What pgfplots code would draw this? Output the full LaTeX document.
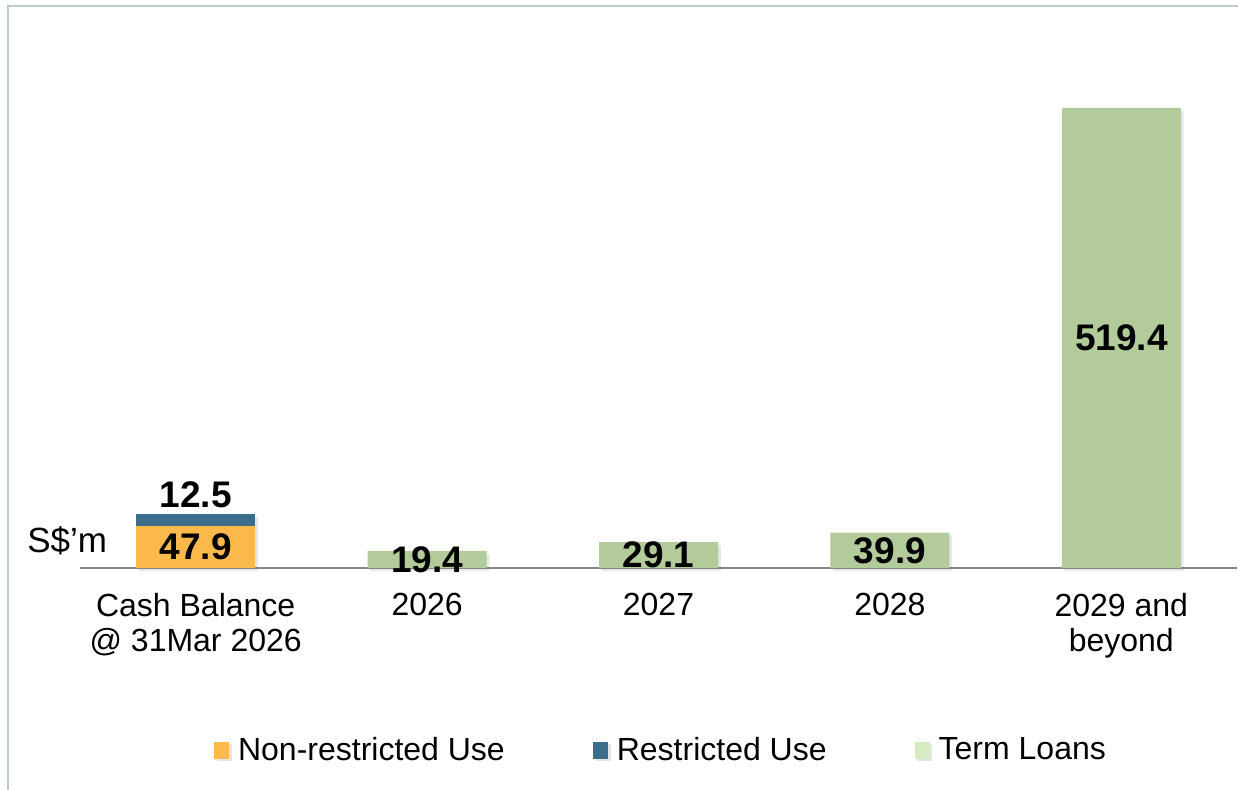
\documentclass[border=0pt]{standalone}
\usepackage{pgfplots}
\pgfplotsset{compat=1.18}
\usepackage{fontspec}
\setmainfont{Liberation Sans}
\usetikzlibrary{shadows}
\definecolor{nonres}{RGB}{251,185,75}
\definecolor{res}{RGB}{58,110,138}
\definecolor{term}{RGB}{179,203,154}
\definecolor{termlg}{RGB}{214,236,192}
\definecolor{framec}{RGB}{190,203,206}
\definecolor{axisgray}{RGB}{134,134,134}
\pgfplotsset{
  common/.style={at={(0pt,0pt)}, anchor=south west,
    x=115.7pt, y=0.443pt, xmin=-0.5, xmax=4.5, ymin=0, ymax=630, clip=false},
}
\begin{document}
\begin{tikzpicture}
\useasboundingbox (-40pt,-111pt) rectangle (579pt,284pt);
\draw[framec, line width=1pt] (-36pt,-111pt) -- (-36pt,281pt) -- (579pt,281pt);
\begin{axis}[
  common, name=ax,
  ybar stacked, bar width=59.5pt,
  axis y line=none, axis x line*=bottom,
  x axis line style={-, draw=axisgray, line width=0.6pt},
  xtick={0,1,2,3,4},
  xticklabels={{Cash Balance\\@ 31Mar 2026},2026,2027,2028,{2029 and\\beyond}},
  xtick style={draw=none}, ytick=\empty,
  xticklabel style={align=center, anchor=north, inner sep=0pt, yshift=-12.5pt, font=\fontsize{16}{17.5}\selectfont},
  legend style={at={(axis description cs:0.503,-0.326)}, anchor=center, draw=none, fill=none,
    legend columns=3, font=\fontsize{16}{19}\selectfont,
    /tikz/every even column/.append style={column sep=42pt},
    /tikz/every odd column/.append style={column sep=2.5pt}},
  shadowstyle/.style={drop shadow={opacity=0.2, shadow xshift=1.4pt, shadow yshift=-1.4pt}},
]
\addplot[fill=nonres, draw=none, shadowstyle,
  legend image code/.code={\fill[nonres] (0pt,-4.3pt) rectangle (7.5pt,4.2pt);}]
  coordinates {(0,47.9) (1,0) (2,0) (3,0) (4,0)};
\addlegendentry{Non-restricted Use}
\addplot[fill=res, draw=none, shadowstyle,
  legend image code/.code={\fill[res] (0pt,-4.3pt) rectangle (7.5pt,4.2pt);}]
  coordinates {(0,12.5) (1,0) (2,0) (3,0) (4,0)};
\addlegendentry{Restricted Use}
\addplot[fill=term, draw=none, shadowstyle,
  legend image code/.code={\fill[termlg] (0pt,-4.3pt) rectangle (7.5pt,4.2pt);}]
  coordinates {(0,0) (1,19.4) (2,29.1) (3,39.9) (4,519.4)};
\addlegendentry{Term Loans}
\end{axis}
% value labels: placed at the middle of each bar (value/2)
\begin{axis}[common, hide axis,
  nodes near coords style={font=\bfseries\fontsize{18.5}{20}\selectfont, text=black}]
\addplot[draw=none, mark=none, nodes near coords, point meta=explicit symbolic,
  every node near coord/.append style={anchor=center}]
  coordinates {(0,23.95)[47.9] (1,9.7)[19.4] (2,14.55)[29.1] (3,19.95)[39.9] (4,259.7)[519.4]};
\addplot[draw=none, mark=none, nodes near coords, point meta=explicit symbolic,
  every node near coord/.append style={anchor=south, inner sep=3pt}]
  coordinates {(0,60.4)[12.5]};
\end{axis}
\node[anchor=base west, font=\fontsize{17.5}{19}\selectfont, inner sep=0pt] at (-26.5pt,7.5pt) {S\$’m};
\end{tikzpicture}
\end{document}
